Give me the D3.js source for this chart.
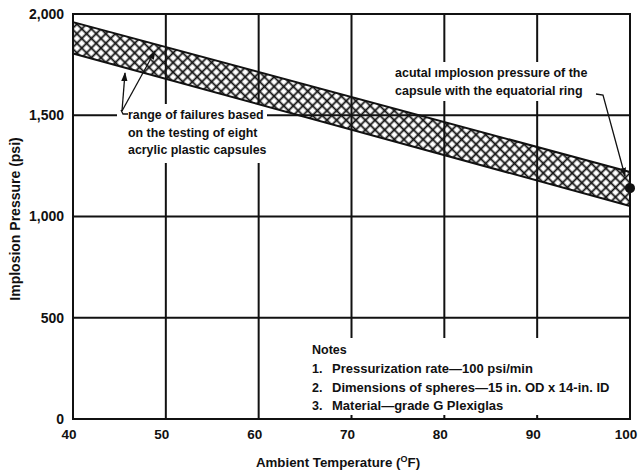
<!DOCTYPE html>
<html><head><meta charset="utf-8">
<script src="https://cdn.jsdelivr.net/npm/d3@7"></script>
<style>
body{margin:0;background:#fff}
svg text{font-family:"Liberation Sans",Arial,sans-serif;font-weight:bold;fill:#111}
</style>
</head><body><svg id="c" width="638" height="475"></svg>
<script>
// ---- data ----
const temps = [40, 100];
const upperBound = [1960, 1220];
const lowerBound = [1805, 1052];
const ringTemp = [100];
const ringPressure = [1140];
const xTicks = [40, 50, 60, 70, 80, 90, 100];
const yTicks = [0, 500, 1000, 1500, 2000];
const yTickLabels = ["0", "500", "1,000", "1,500", "2,000"];
const failureNote = ["range of failures based", "on the testing of eight", "acrylic plastic capsules"];
const ringNote = ["acutal \u0131mplos\u0131on pressure of the", "capsule with the equatorial ring"];
const notesTitle = "Notes";
const notesNums = ["1.", "2.", "3."];
const notesText = ["Pressurization rate\u2014100 psi/min", "Dimensions of spheres\u201415 in. OD x 14-in. ID", "Material\u2014grade G Plexiglas"];

// ---- chart ----
const svg = d3.select("#c");
const x = d3.scaleLinear().domain([40, 100]).range([73, 630]);
const y = d3.scaleLinear().domain([0, 2000]).range([419, 14]);

const defs = svg.append("defs");
const S = 6.8;
const pat = defs.append("pattern").attr("id", "hatch").attr("patternUnits", "userSpaceOnUse")
  .attr("width", S).attr("height", S).attr("patternTransform", "rotate(45)");
pat.append("line").attr("x1", S / 2).attr("y1", 0).attr("x2", S / 2).attr("y2", S).attr("stroke", "#111").attr("stroke-width", 1.8);
pat.append("line").attr("x1", 0).attr("y1", S / 2).attr("x2", S).attr("y2", S / 2).attr("stroke", "#111").attr("stroke-width", 1.8);
defs.append("clipPath").attr("id", "plotclip").append("rect")
  .attr("x", x(40)).attr("y", y(2000)).attr("width", x(100) - x(40)).attr("height", y(0) - y(2000));
defs.append("marker").attr("id", "arr").attr("viewBox", "0 0 10 10").attr("refX", 9).attr("refY", 5)
  .attr("markerWidth", 7).attr("markerHeight", 7).attr("orient", "auto-start-reverse")
  .append("path").attr("d", "M0,1.5 L10,5 L0,8.5 Z").attr("fill", "#111");

// gridlines
const g = svg.append("g").attr("stroke", "#111").attr("stroke-width", 2);
g.selectAll("line.v").data(xTicks).join("line").attr("class", "v")
  .attr("x1", d => x(d)).attr("x2", d => x(d)).attr("y1", y(0) + 1).attr("y2", y(2000) - 1);
g.selectAll("line.h").data(yTicks).join("line").attr("class", "h")
  .attr("x1", x(40) - 1).attr("x2", x(100) + 1).attr("y1", d => y(d)).attr("y2", d => y(d));

// white backgrounds for annotations
svg.append("rect").attr("x", 117).attr("y", 104).attr("width", 150).attr("height", 59).attr("fill", "#fff");
svg.append("rect").attr("x", 390).attr("y", 62).attr("width", 202).attr("height", 39).attr("fill", "#fff");
svg.append("rect").attr("x", 306).attr("y", 338).attr("width", x(100) - 307).attr("height", y(0) - 339).attr("fill", "#fff");
// inner ticks on bottom axis under notes box
svg.append("g").selectAll("line").data([70, 80, 90]).join("line")
  .attr("x1", d => x(d)).attr("x2", d => x(d)).attr("y1", y(0)).attr("y2", y(0) - 4)
  .attr("stroke", "#111").attr("stroke-width", 2);

// band
const bandData = temps.map((t, i) => ({t, lo: lowerBound[i], hi: upperBound[i]}));
svg.append("path").datum(bandData).attr("clip-path", "url(#plotclip)")
  .attr("d", d3.area().x(d => x(d.t)).y0(d => y(d.lo)).y1(d => y(d.hi)))
  .attr("fill", "url(#hatch)").attr("stroke", "none");
["hi", "lo"].forEach(k => {
  svg.append("path").datum(bandData)
    .attr("d", d3.line().x(d => x(d.t)).y(d => y(d[k])))
    .attr("fill", "none").attr("stroke", "#111").attr("stroke-width", 2);
});

// ring point
svg.selectAll("circle.pt").data(ringTemp).join("circle").attr("class", "pt")
  .attr("cx", d => x(d)).attr("cy", (d, i) => y(ringPressure[i])).attr("r", 5).attr("fill", "#111");

// axes labels
svg.append("g").selectAll("text").data(yTicks).join("text")
  .attr("x", 64).attr("y", d => y(d)).attr("dy", "0.35em").attr("text-anchor", "end")
  .attr("font-size", 14).text((d, i) => yTickLabels[i]);
svg.append("g").selectAll("text").data(xTicks).join("text")
  .attr("x", d => x(d) - 4).attr("y", 439).attr("text-anchor", "middle")
  .attr("font-size", 13.5).text(d => d);
const xt = svg.append("text").attr("x", 338).attr("y", 467).attr("text-anchor", "middle").attr("font-size", 13.3);
xt.append("tspan").text("Ambient Temperature (");
xt.append("tspan").attr("font-size", 9).attr("dy", -5).text("O");
xt.append("tspan").attr("dy", 5).text("F)");
svg.append("text").attr("transform", "translate(20,219) rotate(-90)").attr("text-anchor", "middle")
  .attr("font-size", 14).text("Implosion Pressure (psi)");

// failure annotation
svg.append("g").selectAll("text").data(failureNote).join("text")
  .attr("x", 128).attr("y", (d, i) => 119 + i * 17.5).attr("font-size", 12.4).text(d => d);
const ann = svg.append("g").attr("stroke", "#111").attr("stroke-width", 1.3).attr("fill", "none");
ann.append("path").attr("d", "M128,114 L123,114 L121,110");
ann.append("line").attr("x1", 122).attr("y1", 111).attr("x2", 125).attr("y2", 73).attr("marker-end", "url(#arr)");
ann.append("line").attr("x1", 122).attr("y1", 111).attr("x2", 155).attr("y2", 51).attr("marker-end", "url(#arr)");

// ring annotation
svg.append("g").selectAll("text").data(ringNote).join("text")
  .attr("x", 395).attr("y", (d, i) => 77 + i * 18).attr("font-size", 12.5).text(d => d);
ann.append("path").attr("d", "M596,94 L603,95 L625,176").attr("marker-end", "url(#arr)");

// notes
svg.append("text").attr("x", 312).attr("y", 354).attr("font-size", 12.5).text(notesTitle);
svg.append("g").selectAll("text").data(notesNums).join("text")
  .attr("x", 312).attr("y", (d, i) => 373 + i * 18.5).attr("font-size", 12.5).text(d => d);
svg.append("g").selectAll("text").data(notesText).join("text")
  .attr("x", 332).attr("y", (d, i) => 373 + i * 18.5).attr("font-size", 13).text(d => d);
</script>
</body></html>
